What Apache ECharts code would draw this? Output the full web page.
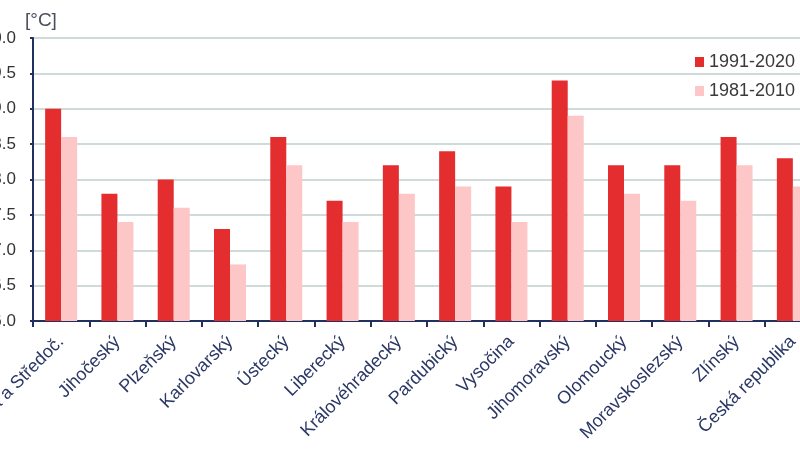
<!DOCTYPE html>
<html>
<head>
<meta charset="utf-8">
<script src="https://cdn.jsdelivr.net/npm/echarts@6/dist/echarts.min.js"></script>
<style>
html,body{margin:0;padding:0;width:800px;height:450px;overflow:hidden;background:#fff;}
#c{position:absolute;left:-20px;top:0;width:860px;height:450px;}
</style>
</head>
<body>
<div id="c"></div>
<script>
const categories = ["Praha a Středoč.", "Jihočeský", "Plzeňský", "Karlovarský", "Ústecký", "Liberecký", "Královéhradecký", "Pardubický", "Vysočina", "Jihomoravský", "Olomoucký", "Moravskoslezský", "Zlínský", "Česká republika"];
const series1991_2020 = [9.0, 7.8, 8.0, 7.3, 8.6, 7.7, 8.2, 8.4, 7.9, 9.4, 8.2, 8.2, 8.6, 8.3];
const series1981_2010 = [8.6, 7.4, 7.6, 6.8, 8.2, 7.4, 7.8, 7.9, 7.4, 8.9, 7.8, 7.7, 8.2, 7.9];
const seriesNames = ["1991-2020", "1981-2010"];
const unitLabel = "[°C]";

const chart = echarts.init(document.getElementById('c'), null, {renderer: 'canvas'});
const navy = '#22305f';
chart.setOption({
  animation: false,
  textStyle: {fontFamily: 'Arial, "Liberation Sans", sans-serif'},
  graphic: [{
    type: 'text', left: 45, top: 11,
    style: {text: unitLabel, fontSize: 19, fill: '#4a4f5a', fontFamily: 'Arial, "Liberation Sans", sans-serif'}
  }],
  legend: {
    orient: 'vertical', left: 710, top: 48,
    itemWidth: 9, itemHeight: 10, itemGap: 11,
    icon: 'rect',
    textStyle: {fontSize: 18, color: '#3a3a3a'},
    data: seriesNames
  },
  grid: {left: 53, right: 19, top: 38, bottom: 129, containLabel: false, outerBoundsMode: 'none'},
  xAxis: {
    type: 'category', data: categories,
    axisLine: {lineStyle: {color: navy, width: 2}},
    axisTick: {show: true, length: 6, lineStyle: {color: navy, width: 2}},
    axisLabel: {rotate: 45, fontSize: 18, color: '#2b3766', margin: 18, interval: 0}
  },
  yAxis: {
    type: 'value', min: 6, max: 10, interval: 0.5,
    axisLine: {show: true, lineStyle: {color: navy, width: 2}},
    axisTick: {show: true, length: 3, lineStyle: {color: navy, width: 2}},
    axisLabel: {fontSize: 17, color: '#333', margin: 17, formatter: v => v.toFixed(1)},
    splitLine: {lineStyle: {color: '#bfcfcf', width: 1.5}}
  },
  series: [
    {name: seriesNames[0], type: 'bar', data: series1991_2020, barWidth: 16, barGap: '0%',
     itemStyle: {color: '#e32d2f'}},
    {name: seriesNames[1], type: 'bar', data: series1981_2010, barWidth: 16, barGap: '0%',
     itemStyle: {color: '#fdc6c7'}}
  ]
});
</script>
</body>
</html>
